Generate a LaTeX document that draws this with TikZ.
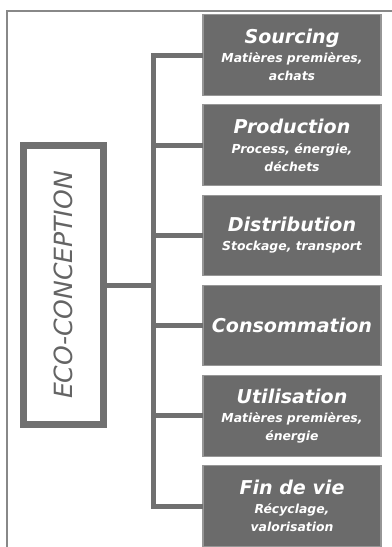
\documentclass[tikz,border=0pt]{standalone}
\usepackage{fontspec}
\setmainfont{DejaVu Sans}
\usetikzlibrary{positioning}
\definecolor{boxgray}{RGB}{107,107,107}
\definecolor{linegray}{RGB}{112,112,112}
\definecolor{textgray}{RGB}{100,100,100}
\definecolor{framegray}{RGB}{136,136,136}
\definecolor{edgegray}{RGB}{150,150,150}
\tikzset{
    phasebox/.style={rectangle, fill=boxgray, draw=edgegray, line width=0.8pt,
                     text=white, minimum width=133.5pt, minimum height=60.4pt,
                     outer sep=0pt, inner sep=2pt, align=center,
                     font=\bfseries\itshape\fontsize{9.3}{13.5}\selectfont},
    ecobox/.style={rectangle, draw=linegray, line width=4.9pt, fill=white,
                   minimum width=60pt, minimum height=209pt, outer sep=0pt},
    ecolbl/.style={rotate=90, text=textgray,
                   font=\itshape\fontsize{18.8}{20}\selectfont},
    branch/.style={draw=linegray, line width=3.75pt, line join=miter},
    frame/.style={draw=framegray, line width=1.2pt},
}
\newcommand{\phname}[1]{{\fontsize{14.3}{15}\selectfont #1}}

\begin{document}
\begin{tikzpicture}[
        x=0.75pt, y=-0.75pt,
        node distance=7.25pt
    ]
    \useasboundingbox (0,0) rectangle (392,547);
    \draw[frame] (7,547) |- (392,11);
    % life-cycle phases
    \node[phasebox] (src) at (292,55)
        {\phname{Sourcing}\\[1pt]
        Matières premières,\\
        achats};
    \node[phasebox, below=of src] (prod)
        {\phname{Production}\\[1pt]
        Process, énergie,\\
        déchets};
    \node[phasebox, below=of prod] (dist)
        {\phname{Distribution}\\[1pt]
        Stockage, transport};
    \node[phasebox, below=of dist] (cons)
        {\phname{Consommation}};
    \node[phasebox, below=of cons] (util)
        {\phname{Utilisation}\\[1pt]
        Matières premières,\\
        énergie};
    \node[phasebox, below=of util] (fdv)
        {\phname{Fin de vie}\\[1pt]
        Récyclage,\\
        valorisation};
    % root
    \node[ecobox] (eco) at (63.5,285) {};
    \node[ecolbl] (ecotxt) at (eco.center) {ECO-CONCEPTION};
    \coordinate (spine) at (153.5,285);
    \draw[branch]
        (src.west) -- (src.west -| spine)
        -- (fdv.west -| spine) -- (fdv.west);
    \foreach \ph in {prod,dist,cons,util}
        \draw[branch] (\ph.west) -- (\ph.west -| spine);
    \draw[branch] (eco.east) -- (eco.east -| spine);
\end{tikzpicture}
\end{document}
